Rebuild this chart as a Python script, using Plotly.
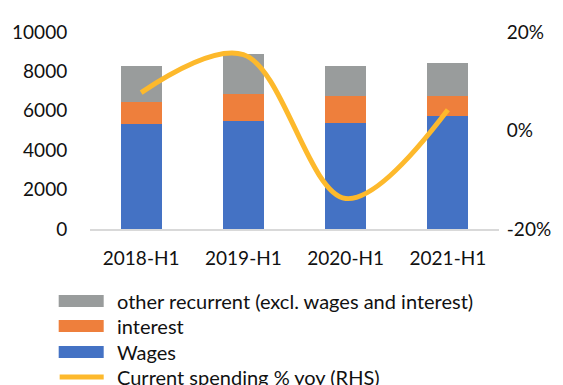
import plotly.graph_objects as go

# Half-year current spending breakdown (stacked) and y/y growth (right axis)
periods = ["2018-H1", "2019-H1", "2020-H1", "2021-H1"]
wages = [5330, 5500, 5380, 5750]
interest = [1100, 1350, 1360, 1020]
other_recurrent = [1840, 2030, 1540, 1660]
spending_yoy = [7.7, 15.4, -13.8, 4.2]

left_ticks = [0, 2000, 4000, 6000, 8000, 10000]
left_tick_text = ["0", "2000", "4000", "6000", "8000", "10000"]
right_ticks = [-20, 0, 20]
right_tick_text = ["-20%", "0%", "20%"]

FONT = "Lato"
C_WAGES = "#4472C4"
C_INTEREST = "#EE7F3C"
C_OTHER = "#999C9C"
C_LINE = "#FDB92C"

fig = go.Figure()
bar_w = 0.4
fig.add_trace(go.Bar(x=periods, y=wages, name="Wages", marker_color=C_WAGES,
                     marker_line_width=0, width=bar_w, showlegend=False))
fig.add_trace(go.Bar(x=periods, y=interest, name="interest", marker_color=C_INTEREST,
                     marker_line_width=0, width=bar_w, showlegend=False))
fig.add_trace(go.Bar(x=periods, y=other_recurrent,
                     name="other recurrent (excl. wages and interest)",
                     marker_color=C_OTHER, marker_line_width=0, width=bar_w,
                     showlegend=False))
fig.add_trace(go.Scatter(x=periods, y=spending_yoy, yaxis="y2", mode="lines",
                         name="Current spending % yoy (RHS)",
                         line=dict(color=C_LINE, width=5, shape="spline", smoothing=1.0),
                         showlegend=False))

# Legend drawn below the plot: swatch + label per series
legend_items = [
    ("other recurrent (excl. wages and interest)", C_OTHER, "box"),
    ("interest", C_INTEREST, "box"),
    ("Wages", C_WAGES, "box"),
    ("Current spending % yoy (RHS)", C_LINE, "line"),
]
plot_left, plot_w = 90, 418
plot_bottom, plot_h = 229, 197

def px_x(v):
    return (v - plot_left) / plot_w

def px_y(v):
    return (plot_bottom - v) / plot_h

row_y = [301, 326, 352, 377]
for (label, color, kind), yc in zip(legend_items, row_y):
    if kind == "box":
        fig.add_shape(type="rect", xref="paper", yref="paper",
                      x0=px_x(58), x1=px_x(104), y0=px_y(yc + 6), y1=px_y(yc - 6),
                      fillcolor=color, line_width=0)
    else:
        fig.add_shape(type="line", xref="paper", yref="paper",
                      x0=px_x(59), x1=px_x(104), y0=px_y(yc), y1=px_y(yc),
                      line=dict(color=color, width=5))
    fig.add_annotation(text=label, xref="paper", yref="paper",
                       x=px_x(116), y=px_y(yc), xanchor="left", yanchor="middle",
                       showarrow=False, font=dict(family=FONT, size=20, color="#111111"))

fig.update_layout(
    width=563, height=385,
    margin=dict(l=90, r=55, t=32, b=156),
    barmode="stack",
    plot_bgcolor="white", paper_bgcolor="white",
    font=dict(family=FONT, size=19, color="#111111"),
    xaxis=dict(showline=True, linecolor="#D9D9D9", linewidth=2, showgrid=False,
               ticks="outside", ticklen=11, tickcolor="rgba(0,0,0,0)",
               range=[-0.5, 3.5]),
    yaxis=dict(range=[0, 10000], tickvals=left_ticks, ticktext=left_tick_text,
               showgrid=False, zeroline=False,
               ticks="outside", ticklen=18, tickcolor="rgba(0,0,0,0)"),
    yaxis2=dict(overlaying="y", side="right", range=[-20, 20], tickvals=right_ticks,
                ticktext=right_tick_text, showgrid=False, zeroline=False,
                ticks="outside", ticklen=3, tickcolor="rgba(0,0,0,0)"),
    showlegend=False,
)

fig.write_html("out.html")
